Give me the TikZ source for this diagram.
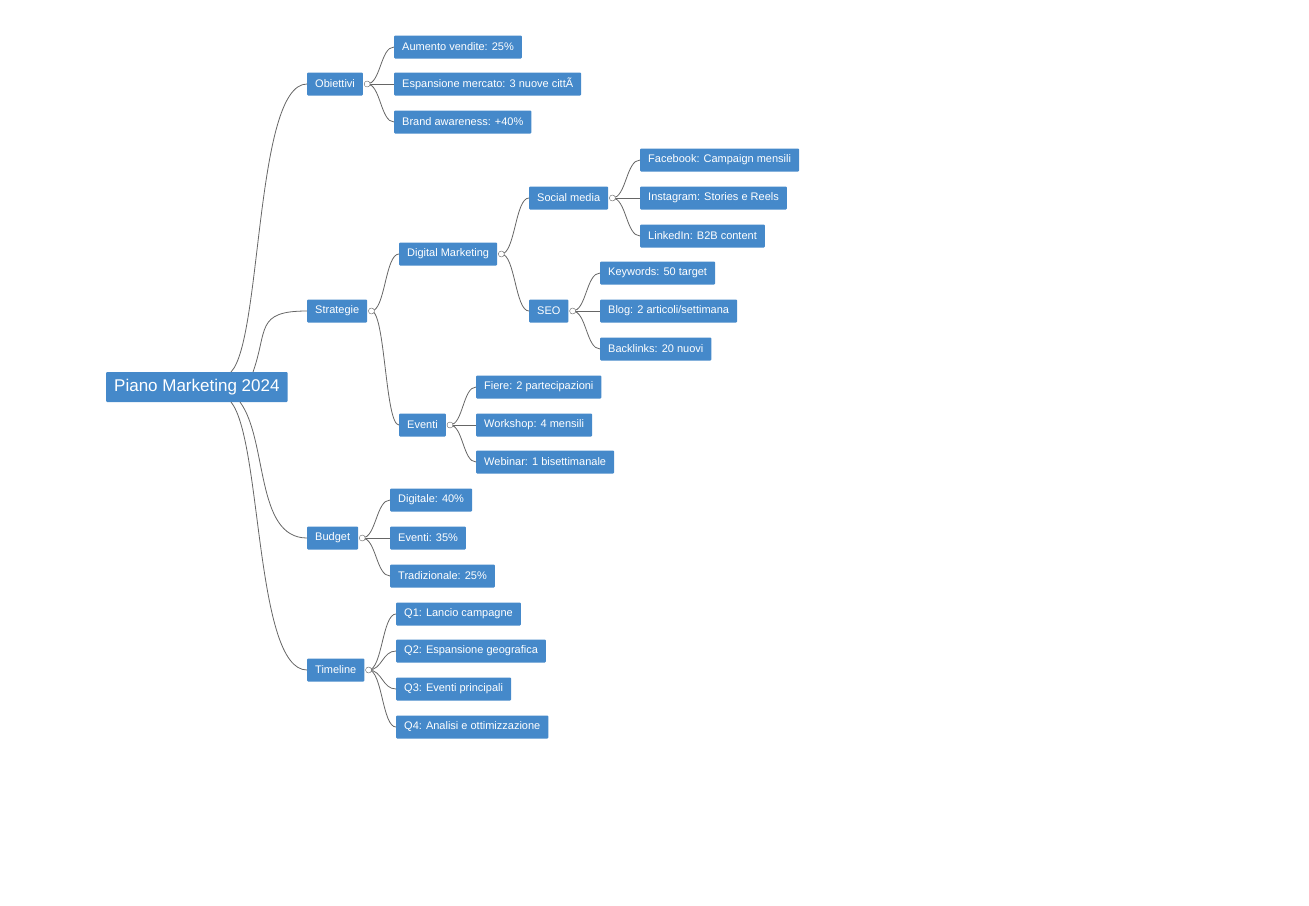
\documentclass[tikz,border=0pt]{standalone}
\usepackage{fontspec}
\setmainfont{Liberation Sans}
\definecolor{nodeblue}{HTML}{4589CA}
\definecolor{linkgray}{HTML}{666666}
\begin{document}
\begin{tikzpicture}[x=1pt,y=-1pt,
    topic/.style ={rectangle, fill=nodeblue, text=white, anchor=west, inner xsep=8pt,
      minimum height=23pt, font=\fontsize{11}{13}\selectfont, rounded corners=1pt},
    root/.style ={topic, minimum height=30pt, font=\fontsize{17}{20}\selectfont},
    link/.style ={draw=linkgray, thick},
    knob/.style ={circle, draw=linkgray, fill=white, inner sep=0pt, minimum size=6pt}]
   \useasboundingbox (0,0) rectangle (1309,905);
   \node[root] (r) at (106,387) {Piano Marketing 2024};
   \node[topic] (ob) at (307,84) {Obiettivi};
   \node[topic] (st) at (307,311) {Strategie};
   \node[topic] (bu) at (307,538) {Budget};
   \node[topic] (ti) at (307,670) {Timeline};
   \node[topic] (ob1) at (394,47) {Aumento vendite: 25\%};
   \node[topic] (ob2) at (394,84) {Espansione mercato: 3 nuove cittÃ};
   \node[topic] (ob3) at (394,122) {Brand awareness: +40\%};
   \node[topic] (dm) at (399,254) {Digital Marketing};
   \node[topic] (ev) at (399,425) {Eventi};
   \node[topic] (so) at (529,198) {Social media};
   \node[topic] (se) at (529,311) {SEO};
   \node[topic] (so1) at (640,160) {Facebook: Campaign mensili};
   \node[topic] (so2) at (640,198) {Instagram: Stories e Reels};
   \node[topic] (so3) at (640,236) {LinkedIn: B2B content};
   \node[topic] (se1) at (600,273) {Keywords: 50 target};
   \node[topic] (se2) at (600,311) {Blog: 2 articoli/settimana};
   \node[topic] (se3) at (600,349) {Backlinks: 20 nuovi};
   \node[topic] (ev1) at (476,387) {Fiere: 2 partecipazioni};
   \node[topic] (ev2) at (476,425) {Workshop: 4 mensili};
   \node[topic] (ev3) at (476,462) {Webinar: 1 bisettimanale};
   \node[topic] (bu1) at (390,500) {Digitale: 40\%};
   \node[topic] (bu2) at (390,538) {Eventi: 35\%};
   \node[topic] (bu3) at (390,576) {Tradizionale: 25\%};
   \node[topic] (ti1) at (396,614) {Q1: Lancio campagne};
   \node[topic] (ti2) at (396,651) {Q2: Espansione geografica};
   \node[topic] (ti3) at (396,689) {Q3: Eventi principali};
   \node[topic] (ti4) at (396,727) {Q4: Analisi e ottimizzazione};
   % root branches
   \draw[link] (231,372) .. controls (262,340) and (255,84) .. (ob.west);
   \draw[link] (253,372) .. controls (268,330) and (255,311) .. (st.west);
   \draw[link] (240,402) .. controls (268,440) and (255,538) .. (bu.west);
   \draw[link] (231,402) .. controls (262,440) and (255,670) .. (ti.west);
   % sub branches
   \foreach \p/\kids in {ob/{ob1,ob2,ob3}, st/{dm,ev}, dm/{so,se}, so/{so1,so2,so3},
       se/{se1,se2,se3}, ev/{ev1,ev2,ev3}, bu/{bu1,bu2,bu3}, ti/{ti1,ti2,ti3,ti4}} {
     \coordinate (k) at ([xshift=4pt]\p.east);
     \foreach \c in \kids {
       \path (k) -- (\c.west) coordinate[pos=0.5] (m);
       \draw[link] (k) .. controls (m |- k) and (m |- \c.west) .. (\c.west);
     }
     \node[knob] (\p k) at (k) {};
   }
\end{tikzpicture}
\end{document}
